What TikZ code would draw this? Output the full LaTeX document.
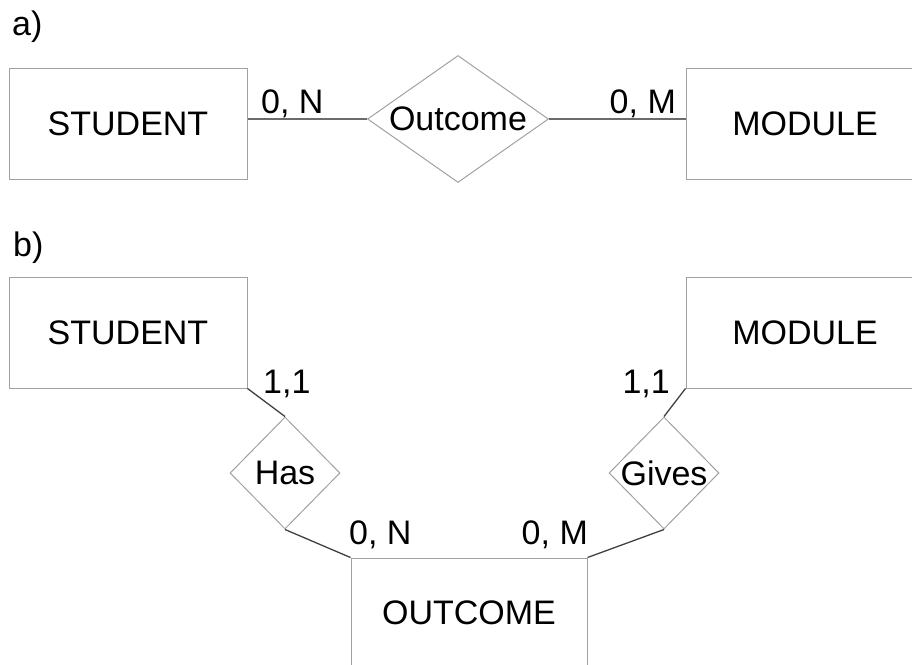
\documentclass[tikz,border=0pt]{standalone}
\usepackage{fontspec}
\setmainfont{Liberation Sans}
\usetikzlibrary{shapes.geometric}
\definecolor{boxgray}{gray}{0.63}
\definecolor{linegray}{gray}{0.42}
\definecolor{darkline}{gray}{0.25}
\begin{document}
\begin{tikzpicture}[x=1pt,y=-1pt,font=\fontsize{34}{40}\selectfont,
    entity/.style={draw=boxgray,line width=1pt,minimum width=238pt,minimum height=111pt,inner sep=0pt},
    rel/.style={diamond,draw=boxgray,line width=1pt,inner sep=0pt},
    card/.style={inner sep=2pt},
    link/.style={draw=#1,line width=1.3pt}]
\clip (0,0) rectangle (912,664);
\node[card,anchor=base west] (la) at (10,35) {a)};
\node[entity] (sa) at (128,123.5) {STUDENT};
\node[rel,minimum width=181pt,minimum height=127pt] (oa) at (458,119) {\makebox[0pt]{Outcome}};
\node[entity] (ma) at (805,123.5) {MODULE};
\draw[link=linegray] (oa.west -| sa.east) -- (oa.west)
    node[card,pos=0,anchor=base west,xshift=11pt,yshift=6pt] {0, N};
\draw[link=linegray] (oa.east) -- (oa.east -| ma.west)
    node[card,pos=1,anchor=base east,xshift=-7pt,yshift=6pt] {0, M};
\node[card,anchor=base west] (lb) at (11,256) {b)};
\node[entity] (sb) at (128,332.5) {STUDENT};
\node[entity] (mb) at (805,332.5) {MODULE};
\node[rel,minimum width=110pt,minimum height=112pt] (has) at (285,473) {\makebox[0pt]{Has}};
\node[rel,minimum width=110pt,minimum height=112pt] (gives) at (664,473) {\makebox[0pt]{Gives}};
\node[entity,minimum width=236pt,minimum height=110pt] (ob) at (469,613) {OUTCOME};
\draw[link=darkline] (sb.south east) -- (has.north)
    node[card,pos=0,anchor=base west,xshift=13pt,yshift=-5pt] {1,1};
\draw[link=darkline] (mb.south west) -- (gives.north)
    node[card,pos=0,anchor=base east,xshift=-13pt,yshift=-5pt] {1,1};
\draw[link=darkline] (has.south) -- (ob.north west)
    node[card,pos=1,anchor=base west,xshift=-4pt,yshift=13pt] {0, N};
\draw[link=darkline] (gives.south) -- (ob.north east)
    node[card,pos=1,anchor=base east,xshift=3pt,yshift=13pt] {0, M};
\end{tikzpicture}
\end{document}
